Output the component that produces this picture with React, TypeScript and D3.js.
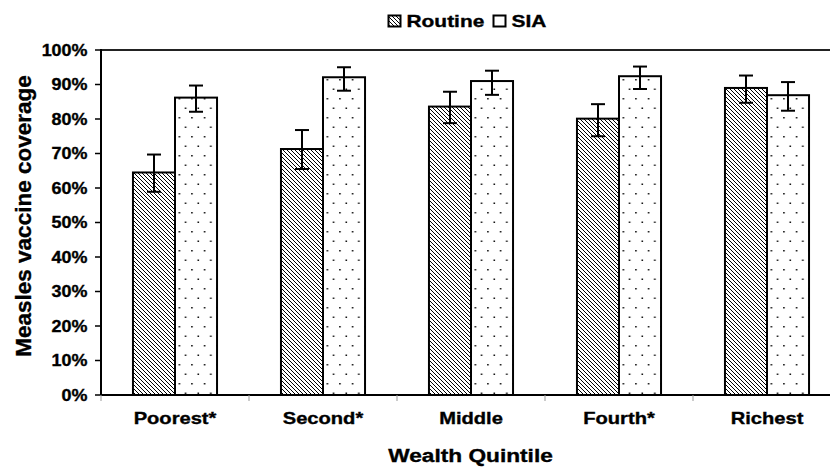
import React from "react";
import * as d3 from "d3";

const categories = ["Poorest*", "Second*", "Middle", "Fourth*", "Richest"];
const series = ["Routine", "SIA"];
const routine = [64.5, 71.3, 83.6, 80.1, 89.0];
const routineLo = [58.9, 65.5, 78.8, 75.0, 84.7];
const routineHi = [69.7, 76.8, 87.9, 84.3, 92.6];
const sia = [86.2, 92.1, 91.0, 92.4, 86.9];
const siaLo = [82.1, 88.2, 87.0, 88.7, 82.4];
const siaHi = [89.7, 95.0, 94.0, 95.2, 90.7];
const yTicks = [0, 10, 20, 30, 40, 50, 60, 70, 80, 90, 100];

const W = 830;
const H = 468;
const left = 101;
const right = 841;
const top = 50;
const bottom = 395;
const FONT = "'Liberation Sans', Arial, Helvetica, sans-serif";

function T(props: {
  x: number;
  y: number;
  size: number;
  sx?: number;
  anchor?: string;
  children: React.ReactNode;
}) {
  const { x, y, size, sx = 1, anchor = "start", children } = props;
  return (
    <text
      transform={`translate(${x},${y}) scale(${sx},1)`}
      textAnchor={anchor}
      fontFamily={FONT}
      fontWeight="bold"
      fontSize={size}
      fill="#000"
      stroke="#000"
      strokeWidth={0.35}
    >
      {children}
    </text>
  );
}

export default function App() {
  const x0 = d3.scaleBand<string>().domain(categories).range([left, right]).padding(0);
  const bw = x0.bandwidth();
  const x1 = d3.scaleBand<string>().domain(series).range([bw * 0.216, bw * 0.784]).padding(0);
  const y = d3.scaleLinear().domain([0, 100]).range([bottom, top]);
  const fills = ["url(#hatch)", "url(#dots)"];
  const vals = [routine, sia];
  const los = [routineLo, siaLo];
  const his = [routineHi, siaHi];
  const cap = 7;

  return (
    <svg width={W} height={H} style={{ position: "absolute", left: 0, top: 0, background: "#fff" }}>
      <defs>
        <pattern id="hatch" patternUnits="userSpaceOnUse" width={4} height={4}>
          <rect width={4} height={4} fill="#fff" />
          <path d="M-1,-1 L5,5 M-1,3 L1,5 M3,-1 L5,1" stroke="#000" strokeWidth={1} />
        </pattern>
        <pattern id="dots" patternUnits="userSpaceOnUse" width={12.6} height={19}>
          <rect width={12.6} height={19} fill="#fff" />
          <rect x={2} y={3} width={1.5} height={1.5} fill="#000" />
          <rect x={8.3} y={12.5} width={1.5} height={1.5} fill="#000" />
        </pattern>
      </defs>

      {/* legend */}
      <rect x={388.5} y={15.5} width={12} height={11} fill="url(#hatch)" stroke="#000" strokeWidth={2} />
      <T x={406.5} y={27.3} size={17} sx={1.23}>
        {series[0]}
      </T>
      <rect x={493.5} y={15.5} width={12} height={11} fill="#fff" stroke="#000" strokeWidth={2} />
      <T x={511.5} y={27.3} size={17} sx={1.23}>
        {series[1]}
      </T>

      {/* frame */}
      <line x1={left} x2={right} y1={top} y2={top} stroke="#222" strokeWidth={2} />

      {/* y ticks */}
      {yTicks.map((t) => (
        <g key={t}>
          <line x1={left - 6} x2={left} y1={y(t)} y2={y(t)} stroke="#000" strokeWidth={1.5} />
          <T x={87.5} y={y(t) + 5.9} size={16.3} sx={1.1} anchor="end">
            {t}%
          </T>
        </g>
      ))}

      {/* bars */}
      {categories.map((c, i) => (
        <g key={c} transform={`translate(${x0(c)},0)`}>
          {series.map((s, k) => {
            const bx = x1(s)!;
            const w = x1.bandwidth();
            const v = vals[k][i];
            const cx = bx + w / 2;
            return (
              <g key={s}>
                <rect x={bx} y={y(v)} width={w} height={bottom - y(v)} fill={fills[k]} stroke="#000" strokeWidth={2} />
                <line x1={cx} x2={cx} y1={y(his[k][i])} y2={y(los[k][i])} stroke="#000" strokeWidth={2} />
                <line x1={cx - cap} x2={cx + cap} y1={y(his[k][i])} y2={y(his[k][i])} stroke="#000" strokeWidth={2} />
                <line x1={cx - cap} x2={cx + cap} y1={y(los[k][i])} y2={y(los[k][i])} stroke="#000" strokeWidth={2} />
              </g>
            );
          })}
        </g>
      ))}

      {/* axes */}
      <line x1={left} x2={left} y1={top - 1} y2={bottom} stroke="#000" strokeWidth={2} />
      <line x1={left} x2={right} y1={bottom} y2={bottom} stroke="#000" strokeWidth={2} />
      {categories.concat(["end"]).map((c, i) => (
        <line key={i} x1={left + i * bw} x2={left + i * bw} y1={bottom} y2={bottom + 6} stroke="#999" strokeWidth={1} />
      ))}

      {/* x labels */}
      {categories.map((c) => (
        <T key={c} x={x0(c)! + bw / 2} y={424} size={16.5} sx={1.22} anchor="middle">
          {c}
        </T>
      ))}
      <T x={470.5} y={461.5} size={18.6} sx={1.22} anchor="middle">
        Wealth Quintile
      </T>
      <text
        transform={`translate(31,216) rotate(-90)`}
        textAnchor="middle"
        fontFamily={FONT}
        fontWeight="bold"
        fontSize={22.5}
        stroke="#000"
        strokeWidth={0.35}
      >
        Measles vaccine coverage
      </text>
    </svg>
  );
}
